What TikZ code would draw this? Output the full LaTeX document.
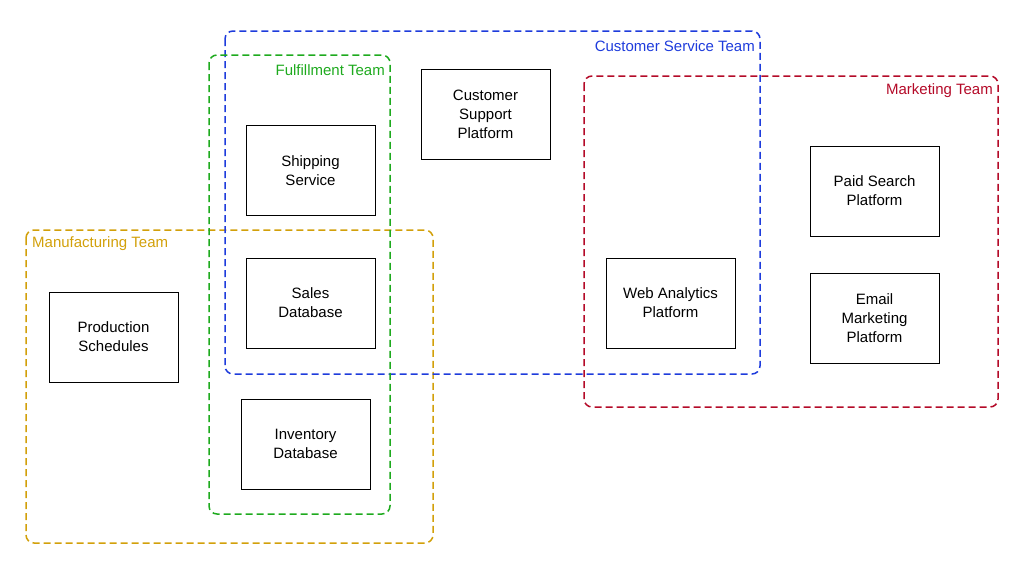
\documentclass[tikz,border=0pt]{standalone}
\usepackage{fontspec}
\setmainfont{Liberation Sans}
\definecolor{cblue}{RGB}{30,60,220}
\definecolor{cgreen}{RGB}{30,170,30}
\definecolor{cred}{RGB}{180,10,40}
\definecolor{cyellow}{RGB}{210,160,10}
\begin{document}
\begin{tikzpicture}[x=1pt,y=-1pt,
  box/.style={draw=black,fill=white,line width=0.8pt,minimum width=129pt,minimum height=90pt,align=center,font=\fontsize{15}{19}\selectfont},
  team/.style={draw=#1,dashed,dash pattern=on 7pt off 4pt,line width=1.5pt,rounded corners=8pt},
  lab/.style={text=#1,font=\fontsize{15}{18}\selectfont,inner sep=0pt}]
\useasboundingbox (0,0) rectangle (1024,562);
\draw[team=cyellow] (26,230) rectangle (433,543);
\draw[team=cred] (584,76) rectangle (998,407);
\draw[team=cblue] (225,31) rectangle (760,374);
\draw[team=cgreen] (209,55) rectangle (390,514);
\node[lab=cblue,anchor=east] (tcs) at (755,46) {Customer Service Team};
\node[lab=cgreen,anchor=east] (tf) at (385,70) {Fulfillment Team};
\node[lab=cred,anchor=east] (tm) at (993,91) {Marketing Team};
\node[lab=cyellow,anchor=west] (tmf) at (32,244) {Manufacturing Team};
\node[box] (csp) at (485.5,114.5) {Customer\\Support\\Platform};
\node[box] (ss) at (310.5,170.5) {Shipping\\Service};
\node[box] (sd) at (310.5,303) {Sales\\Database};
\node[box] (ps) at (113.5,337) {Production\\Schedules};
\node[box] (id) at (305.5,444) {Inventory\\Database};
\node[box] (wa) at (670.5,303) {Web Analytics\\Platform};
\node[box] (psp) at (874.5,191) {Paid Search\\Platform};
\node[box] (em) at (874.5,318) {Email\\Marketing\\Platform};
\end{tikzpicture}
\end{document}
